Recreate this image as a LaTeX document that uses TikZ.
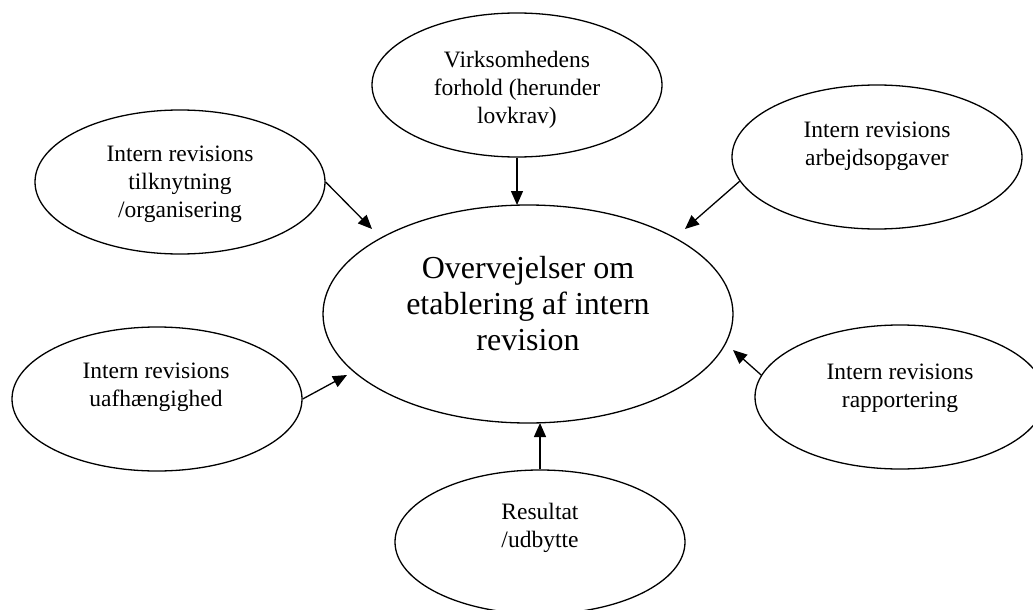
\documentclass[tikz,border=0pt]{standalone}
\usepackage{fontspec}
\setmainfont{Liberation Serif}
\usetikzlibrary{shapes.geometric,arrows.meta}
\tikzset{
  oval/.style={ellipse, draw=black, line width=1.3pt, minimum width=290pt, minimum height=144pt, inner sep=0pt},
  bigoval/.style={ellipse, draw=black, line width=1.3pt, minimum width=410pt, minimum height=218pt, inner sep=0pt},
  txt/.style={align=center, inner sep=0pt, font=\fontsize{23.5}{28}\selectfont},
  bigtxt/.style={align=center, inner sep=0pt, font=\fontsize{32}{36}\selectfont},
  arr/.style={line width=1.3pt, -{Triangle[length=14pt,width=12pt]}}
}
\begin{document}
\begin{tikzpicture}[x=1pt,y=-1pt]
\useasboundingbox (0,0) rectangle (1033,610);
% ellipses
\node[bigoval] (c) at (528,314) {};
\node[oval] (top) at (517,85) {};
\node[oval] (ul) at (180,182) {};
\node[oval] (ur) at (877,157) {};
\node[oval] (ll) at (157,399) {};
\node[oval] (lr) at (900,397) {};
\node[oval] (bot) at (540,542) {};
% texts
\node[bigtxt] (ct) at (528,304) {Overvejelser om\\etablering af intern\\revision};
\node[txt] (topt) at (517,90) {Virksomhedens\\forhold (herunder\\lovkrav)};
\node[txt] (ult) at (180,184) {Intern revisions\\tilknytning\\/organisering};
\node[txt] (urt) at (877,146) {Intern revisions\\arbejdsopgaver};
\node[txt] (llt) at (156,387) {Intern revisions\\uafhængighed};
\node[txt] (lrt) at (900,388) {Intern revisions\\rapportering};
\node[txt] (bott) at (540,528) {Resultat\\/udbytte};
% arrow tips
\coordinate (tTop) at (517,205);
\coordinate (tUL) at (372,229);
\coordinate (tUR) at (685,229);
\coordinate (tLL) at (347,375);
\coordinate (tLR) at (733,350);
\coordinate (tBot) at (540,423);
% arrows
\draw[arr] (top.south) -- (tTop);
\draw[arr] (ul.east) -- (tUL);
\draw[arr] (ur.190) -- (tUR);
\draw[arr] (ll.east) -- (tLL);
\draw[arr] (lr.171) -- (tLR);
\draw[arr] (bot.north) -- (tBot);
\end{tikzpicture}
\end{document}
